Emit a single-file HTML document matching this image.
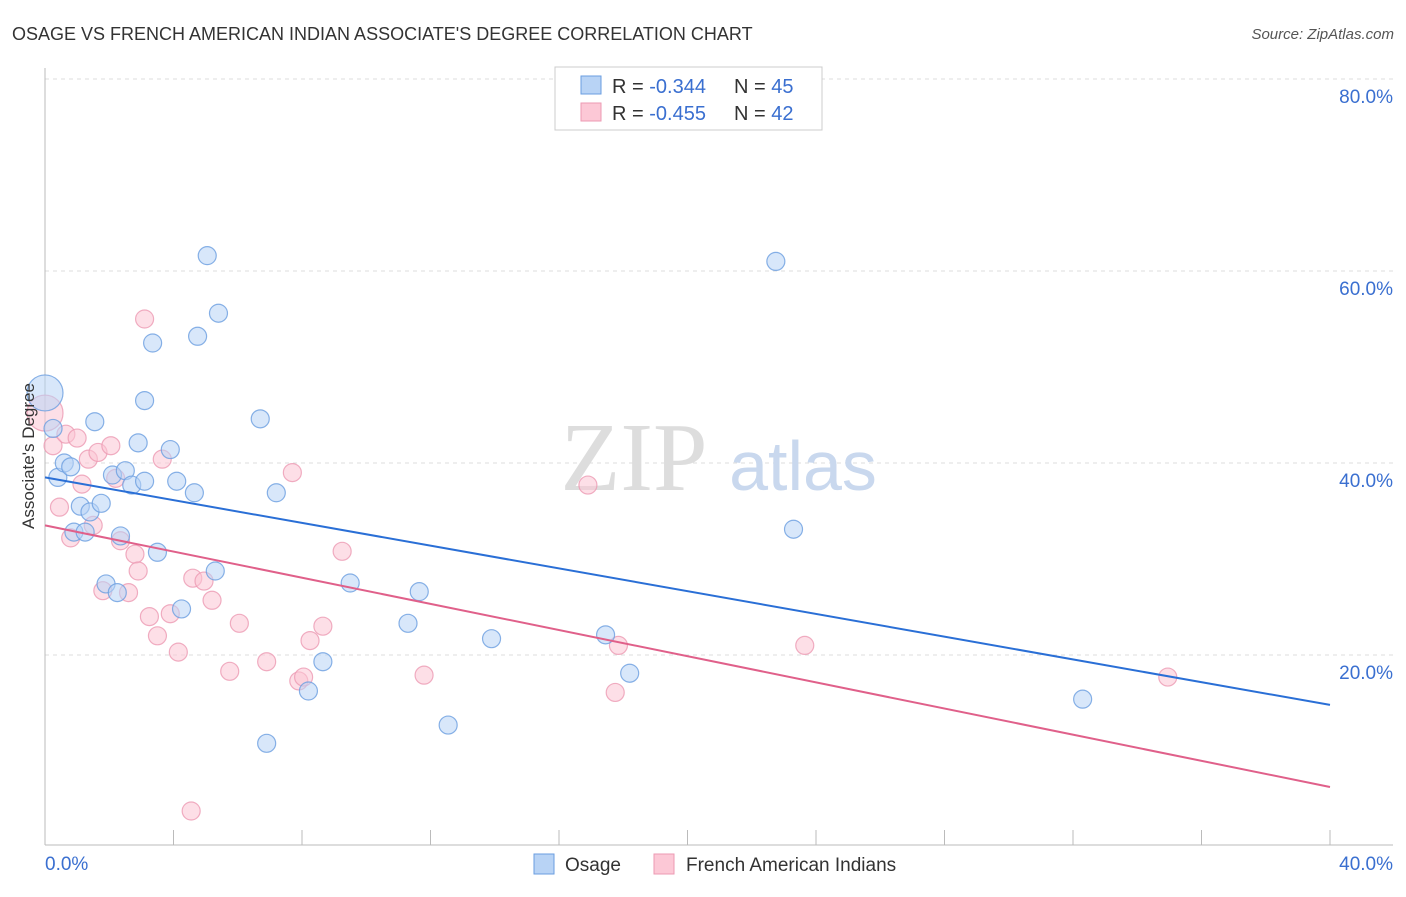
<!DOCTYPE html>
<html><head><meta charset="utf-8"><style>
body{margin:0;background:#fff;font-family:"Liberation Sans",sans-serif}
</style></head><body>
<svg width="1406" height="892" xmlns="http://www.w3.org/2000/svg">
<text x="12" y="40" font-size="18" fill="#333">OSAGE VS FRENCH AMERICAN INDIAN ASSOCIATE'S DEGREE CORRELATION CHART</text>
<text x="1394" y="39" font-size="15" fill="#555" font-style="italic" text-anchor="end">Source: ZipAtlas.com</text>
<g id="grid"></g>
<text x="634" y="490" font-size="98" fill="#ddd" font-family="Liberation Serif" text-anchor="middle">ZIP</text>
<text x="803" y="490" font-size="70" fill="#c9d8ee" text-anchor="middle">atlas</text>
<g id="marks"></g>
<text transform="translate(34,456) rotate(-90)" font-size="17" fill="#333" text-anchor="middle">Associate's Degree</text>
<g>
<rect x="555" y="67" width="267" height="63" fill="#fff" stroke="#ccc"/>
<rect x="581" y="76" width="20" height="18" fill="#b8d3f5" stroke="#6a9ee0"/>
<rect x="581" y="103" width="20" height="18" fill="#fcc8d6" stroke="#ec9ab3"/>
<text x="612" y="93" font-size="20" fill="#333">R = <tspan fill="#3a6fd0">-0.344</tspan></text>
<text x="734" y="93" font-size="20" fill="#333">N = <tspan fill="#3a6fd0">45</tspan></text>
<text x="612" y="120" font-size="20" fill="#333">R = <tspan fill="#3a6fd0">-0.455</tspan></text>
<text x="734" y="120" font-size="20" fill="#333">N = <tspan fill="#3a6fd0">42</tspan></text>
</g>
<g>
<rect x="534" y="854" width="20" height="20" fill="#b8d3f5" stroke="#6a9ee0"/>
<text x="565" y="871" font-size="19" fill="#333">Osage</text>
<rect x="654" y="854" width="20" height="20" fill="#fcc8d6" stroke="#ec9ab3"/>
<text x="686" y="871" font-size="19" fill="#333">French American Indians</text>
</g>
</svg>
<script>
const xTicksLabels=["0.0%","40.0%"];
const yTickValues=[20,40,60,80];
const osageX=[0.0,0.25,0.4,0.6,0.8,1.1,0.9,1.25,1.4,1.55,1.75,1.9,2.25,2.1,2.35,2.5,2.7,2.9,3.1,3.1,3.35,3.5,3.9,4.1,4.25,4.65,4.75,5.05,5.3,5.4,6.7,6.9,7.2,8.2,8.65,9.5,11.3,11.65,12.55,13.9,17.45,18.2,22.75,23.3,32.3];
const osageY=[47.3,43.6,38.5,40.0,39.6,35.5,32.8,32.8,34.9,44.3,35.8,27.4,26.5,38.75,32.4,39.2,37.7,42.1,46.5,38.1,52.5,30.7,41.4,38.1,24.8,36.9,53.2,61.6,28.75,55.6,44.6,10.8,36.9,16.25,19.3,27.5,23.3,26.6,12.7,21.7,22.1,18.1,61.0,33.1,15.4];
const frenchX=[0,0.25,0.45,0.65,0.8,1.0,1.15,1.35,1.5,1.65,1.8,2.05,2.2,2.35,2.6,2.8,2.9,3.1,3.25,3.5,3.65,3.9,4.15,4.55,4.6,4.95,5.2,5.75,6.05,6.9,7.7,7.9,8.05,8.25,8.65,9.25,11.8,16.9,17.75,17.85,23.65,34.95];
const frenchY=[45.2,41.8,35.4,43.0,32.2,42.6,37.8,40.4,33.5,41.1,26.7,41.8,38.4,31.9,26.5,30.5,28.75,55.0,24.0,22.0,40.4,24.3,20.3,3.75,28.0,27.7,25.7,18.3,23.3,19.3,39.0,17.3,17.7,21.5,23.0,30.8,17.9,37.7,16.1,21.0,21.0,17.7];
const osageTrend=[38.5,14.8];
const frenchTrend=[33.5,6.25];
const NS="http://www.w3.org/2000/svg";
const X=v=>45+v*32.125, Y=v=>847-v*9.6;
function mk(t,a,p){const e=document.createElementNS(NS,t);for(const k in a)e.setAttribute(k,a[k]);p.appendChild(e);return e;}
const g=document.getElementById('grid'), m=document.getElementById('marks');
let e;
for(const v of yTickValues){
e=mk('line',{x1:45,x2:1393,y1:Y(v),y2:Y(v),stroke:'#ddd','stroke-dasharray':'4,4'},g);


e=mk('text',{x:1393,y:Y(v)+24,'font-size':19,fill:'#3a6fd0','text-anchor':'end'},g);e.textContent=v.toFixed(1)+'%';


}
e=mk('line',{x1:45,x2:45,y1:68,y2:845,stroke:'#bbb'},g);


e=mk('line',{x1:45,x2:1393,y1:845,y2:845,stroke:'#bbb'},g);


for(let i=0;i<=10;i++){e=mk('line',{x1:X(i*4),x2:X(i*4),y1:830,y2:845,stroke:'#bbb'},g);

}
e=mk('text',{x:45,y:870,'font-size':19,fill:'#3a6fd0'},g);e.textContent=xTicksLabels[0];


e=mk('text',{x:1393,y:870,'font-size':19,fill:'#3a6fd0','text-anchor':'end'},g);e.textContent=xTicksLabels[1];


function pts(xs,ys,fill,stroke,name){xs.forEach((x,i)=>{const r=i===0?18:9;
e=mk('circle',{cx:X(x),cy:Y(ys[i]),r:r,fill:fill,'fill-opacity':0.55,stroke:stroke,'stroke-opacity':0.8,'stroke-width':1.2},m);

});}
pts(frenchX,frenchY,'#fbc4d3','#ec9ab3','french-point');
pts(osageX,osageY,'#b8d3f5','#6a9ee0','osage-point');
e=mk('line',{x1:X(0),y1:Y(osageTrend[0]),x2:X(40),y2:Y(osageTrend[1]),stroke:'#2a6fd6','stroke-width':2},m);


e=mk('line',{x1:X(0),y1:Y(frenchTrend[0]),x2:X(40),y2:Y(frenchTrend[1]),stroke:'#e0608a','stroke-width':2},m);


</script>
</body></html>
